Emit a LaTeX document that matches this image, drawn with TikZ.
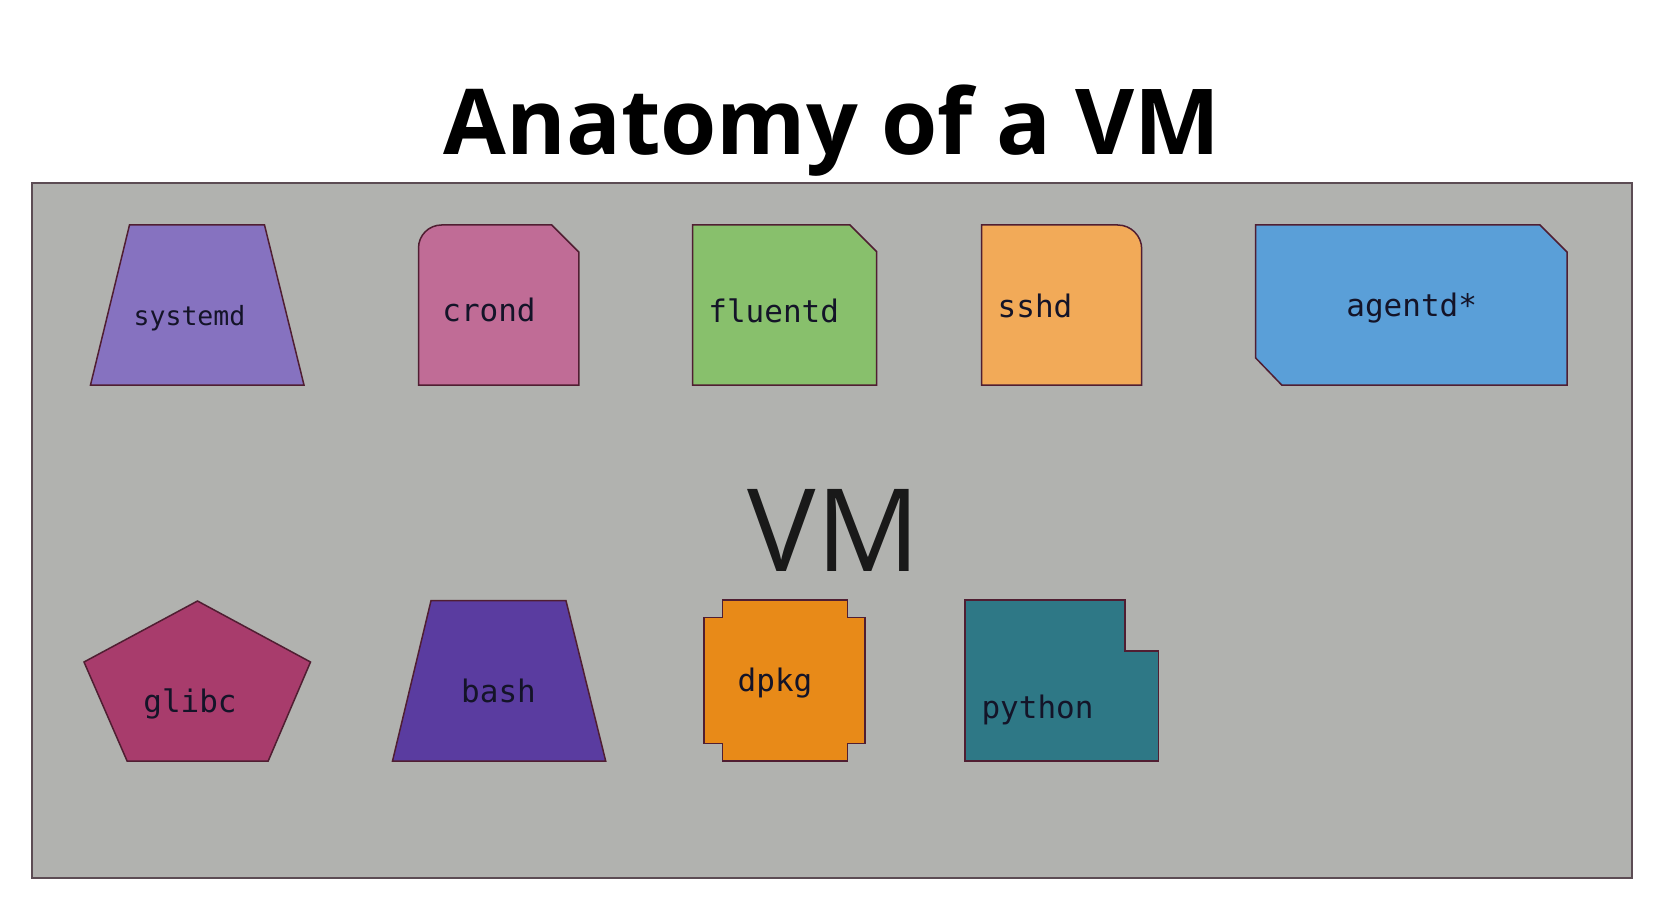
\documentclass[tikz,border=0pt]{standalone}
\usepackage{fontspec}
\setmainfont{Open Sans}
\newfontfamily\labfont{DejaVu Sans Mono}
\definecolor{bggray}{RGB}{177,178,175}
\definecolor{boxline}{RGB}{92,76,84}
\definecolor{shline}{RGB}{80,30,50}
\definecolor{txt}{RGB}{20,20,40}
\definecolor{csystemd}{RGB}{134,114,192}
\definecolor{ccrond}{RGB}{192,108,150}
\definecolor{cfluentd}{RGB}{136,192,108}
\definecolor{csshd}{RGB}{242,170,88}
\definecolor{cagentd}{RGB}{90,159,216}
\definecolor{cglibc}{RGB}{168,60,108}
\definecolor{cbash}{RGB}{90,60,160}
\definecolor{cdpkg}{RGB}{232,138,24}
\definecolor{cpython}{RGB}{46,120,134}
\tikzset{
  shp/.style={draw=shline, line width=1.5pt, line join=miter},
  lab/.style={anchor=base, inner sep=0pt, text=txt, font=\labfont\fontsize{31}{31}\selectfont},
}
\begin{document}
\begin{tikzpicture}[x=1pt,y=-1pt]
\useasboundingbox (0,0) rectangle (1674,920);
\fill[white] (0,0) rectangle (1674,920);
% VM box
\draw[fill=bggray, draw=boxline, line width=2pt] (32,183) rectangle (1632,878);
% title
\node[anchor=base, inner sep=0pt, font=\bfseries\fontsize{91}{91}\selectfont] (title) at (832,155) {Anatomy of a VM};
\node[anchor=base, inner sep=0pt, font=\fontsize{115}{115}\selectfont, text=black!90] (vm) at (834,571) {VM};
% systemd
\draw[shp, fill=csystemd] (129.5,225) -- (264.5,225) -- (304,385) -- (90.5,385) -- cycle;
\node[lab, font=\labfont\fontsize{26.5}{26.5}\selectfont] (systemd) at (189.5,325) {systemd};
% crond
\draw[shp, fill=ccrond] (418.5,385) [rounded corners=23pt] -- (418.5,225) [sharp corners] -- (551.8,225) -- (578.8,252) -- (578.8,385) -- cycle;
\node[lab] (crond) at (489,321) {crond};
% fluentd
\draw[shp, fill=cfluentd] (692.7,385) -- (692.7,225) -- (850,225) -- (876.7,251.7) -- (876.7,385) -- cycle;
\node[lab] (fluentd) at (773.7,323) {fluentd};
% sshd
\draw[shp, fill=csshd] (981.7,385) -- (981.7,225) [rounded corners=24pt] -- (1141.7,225) [sharp corners] -- (1141.7,385) -- cycle;
\node[lab] (sshd) at (1035,317.7) {sshd};
% agentd
\draw[shp, fill=cagentd] (1255.7,225) -- (1540,225) -- (1567,252) -- (1567,385) -- (1281.7,385) -- (1255.7,358) -- cycle;
\node[lab] (agentd) at (1411.7,316.7) {agentd*};
% glibc
\draw[shp, fill=cglibc] (197.5,601) -- (310.5,662) -- (268.2,761) -- (127.1,761) -- (84,662) -- cycle;
\node[lab] (glibc) at (190,712.5) {glibc};
% bash
\draw[shp, fill=cbash] (431,600.7) -- (566,600.7) -- (605.7,761) -- (392.5,761) -- cycle;
\node[lab] (bash) at (498.5,702.5) {bash};
% dpkg
\draw[shp, fill=cdpkg] (722.3,600) -- (847.3,600) -- (847.3,617.7) -- (865,617.7) -- (865,743.3) -- (847.3,743.3) -- (847.3,761) -- (722.3,761) -- (722.3,743.3) -- (704,743.3) -- (704,617.7) -- (722.3,617.7) -- cycle;
\node[lab] (dpkg) at (775,691.7) {dpkg};
% python
\draw[shp, fill=cpython] (965,600) -- (1125,600) -- (1125,651) -- (1158.3,651) -- (1158.3,761) -- (965,761) -- cycle;
\node[lab] (python) at (1037.5,718.3) {python};
\end{tikzpicture}
\end{document}
